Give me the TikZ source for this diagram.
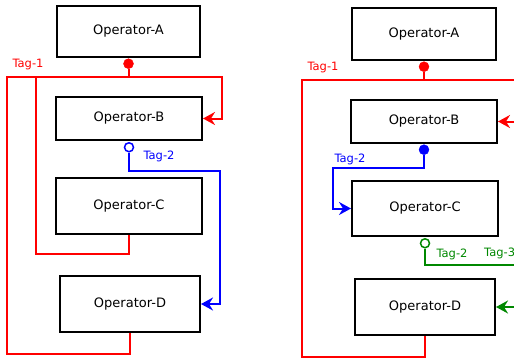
\documentclass[tikz,border=0pt]{standalone}
\usepackage{fontspec}
\setmainfont{DejaVu Sans}
\usetikzlibrary{arrows.meta}
\definecolor{tagred}{RGB}{255,0,0}
\definecolor{tagblue}{RGB}{0,0,255}
\definecolor{taggreen}{RGB}{0,136,0}
\tikzset{
  opbox/.style={draw=black, line width=2pt, rectangle, inner sep=0pt, font=\fontsize{13}{15}\selectfont},
  conn/.style={line width=2pt},
  tip/.style={-{Stealth[length=12pt,width=13pt,inset=4pt]}},
  fulldot/.style={circle, inner sep=0pt, minimum size=10pt, fill=#1, draw=#1},
  opendot/.style={circle, inner sep=0pt, minimum size=9pt, fill=white, draw=#1, line width=1.5pt},
  taglabel/.style={inner sep=0pt, font=\fontsize{11.5}{13}\selectfont, text=#1},
}
\begin{document}
\begin{tikzpicture}[x=1pt,y=-1pt]
\useasboundingbox (0,0) rectangle (514,360);
\clip (0,0) rectangle (514,360);
\fill[white] (0,0) rectangle (514,360);
% ---------- left panel ----------
\node[opbox, minimum width=143pt, minimum height=51pt] (A1) at (128.5,31.5) {Operator-A};
\node[opbox, minimum width=146pt, minimum height=43pt] (B1) at (129,118.5) {Operator-B};
\node[opbox, minimum width=146pt, minimum height=56pt] (C1) at (129,206) {Operator-C};
\node[opbox, minimum width=140pt, minimum height=56pt] (D1) at (130,304) {Operator-D};
\node[fulldot=tagred, anchor=north] (a1dot) at ([yshift=-0.5pt]A1.south) {};
\node[opendot=tagblue, anchor=north] (b1dot) at ([yshift=-1pt]B1.south) {};
\coordinate (y77) at (0,77);
\coordinate (j1) at (a1dot.south |- y77);
\coordinate (rb1) at (222,118.5);
\coordinate (c1) at (36,254);
\coordinate (d1) at (7,354);
\coordinate (bb1) at (220,171);
\draw[conn, tagred] (a1dot.south) -- (j1);
\draw[conn, tagred, tip] (j1) -| (rb1) -- (B1.east);
\draw[conn, tagred] (j1) -| (c1) -| (C1.south);
\draw[conn, tagred] (j1) -| (d1) -| (D1.south);
\draw[conn, tagblue, tip] (b1dot.south) |- (bb1) |- (D1.east);
\node[taglabel=tagred] (t11) at (28,64.5) {Tag-1};
\node[taglabel=tagblue] (t12) at (159,156.5) {Tag-2};
% ---------- right panel ----------
\node[opbox, minimum width=144pt, minimum height=52pt] (A2) at (424,34) {Operator-A};
\node[opbox, minimum width=146pt, minimum height=43pt] (B2) at (424,121.5) {Operator-B};
\node[opbox, minimum width=146pt, minimum height=55pt] (C2) at (425,208.5) {Operator-C};
\node[opbox, minimum width=140pt, minimum height=56pt] (D2) at (425,307) {Operator-D};
\node[fulldot=tagred, anchor=north] (a2dot) at ([yshift=-0.5pt]A2.south) {};
\node[fulldot=tagblue, anchor=north] (b2dot) at ([yshift=-0.5pt]B2.south) {};
\node[opendot=taggreen, anchor=north] (c2dot) at ([yshift=-1pt]C2.south) {};
\coordinate (y80) at (0,80);
\coordinate (j2) at (a2dot.south |- y80);
\coordinate (rb2) at (535,121.5);
\coordinate (d2) at (302,357);
\coordinate (bb2) at (333,168);
\coordinate (g2) at (535,265);
\coordinate (gd2) at (535,307);
\draw[conn, tagred] (a2dot.south) -- (j2);
\draw[conn, tagred, tip] (j2) -| (rb2) -- (B2.east);
\draw[conn, tagred] (j2) -| (d2) -| (D2.south);
\draw[conn, tagblue, tip] (b2dot.south) |- (bb2) |- (C2.west);
\draw[conn, taggreen] (c2dot.south) |- (g2);
\draw[conn, taggreen, tip] (gd2) -- (D2.east);
\node[taglabel=tagred] (t21) at (323,67.5) {Tag-1};
\node[taglabel=tagblue] (t22) at (350,159) {Tag-2};
\node[taglabel=taggreen] (t23) at (452,254) {Tag-2};
\node[taglabel=taggreen, anchor=west] (t24) at (484,253) {Tag-3};
\end{tikzpicture}
\end{document}
